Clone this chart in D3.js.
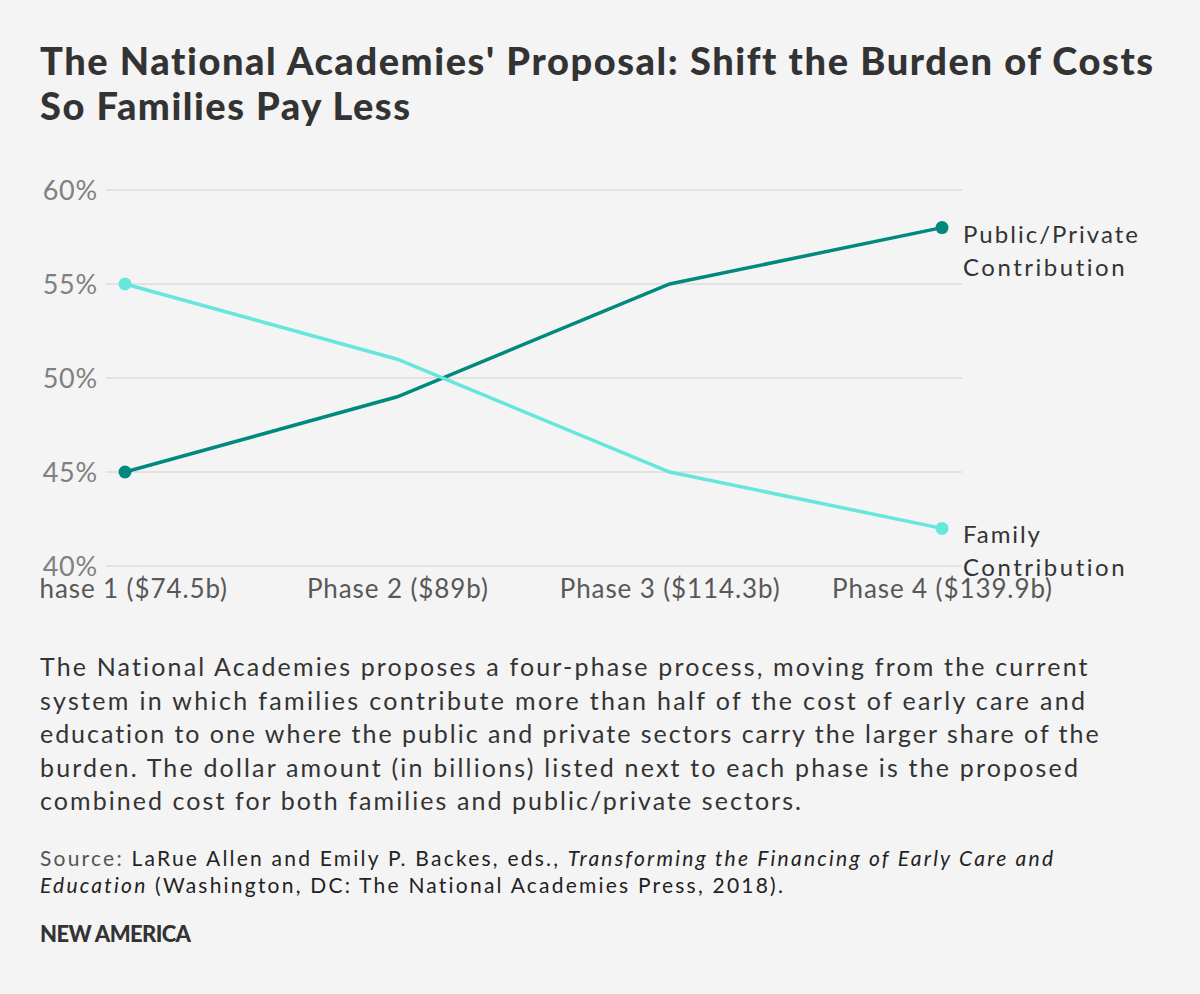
<!DOCTYPE html>
<html>
<head>
<meta charset="utf-8">
<script src="https://cdn.jsdelivr.net/npm/d3@7"></script>
<style>
  html, body { margin: 0; padding: 0; background: #f4f4f4; }
  svg { display: block; font-family: Lato, "Noto Sans", sans-serif; }
</style>
</head>
<body>
<svg id="chart" width="1200" height="994"></svg>
<script>
// ---- data ----
const categories = ["Phase 1 ($74.5b)", "Phase 2 ($89b)", "Phase 3 ($114.3b)", "Phase 4 ($139.9b)"];
const publicPrivate = [45, 49, 55, 58];
const family = [55, 51, 45, 42];
const yTicks = [40, 45, 50, 55, 60];
const seriesNames = [["Public/Private", "Contribution"], ["Family", "Contribution"]];
const titleLines = ["The National Academies' Proposal: Shift the Burden of Costs", "So Families Pay Less"];
const bodyLines = [
  "The National Academies proposes a four-phase process, moving from the current",
  "system in which families contribute more than half of the cost of early care and",
  "education to one where the public and private sectors carry the larger share of the",
  "burden. The dollar amount (in billions) listed next to each phase is the proposed",
  "combined cost for both families and public/private sectors."
];

const svg = d3.select("#chart");
svg.append("rect").attr("width", 1200).attr("height", 994).attr("fill", "#f4f4f4");

// letter-spacing fit helper
function fit(sel, target) {
  sel.each(function() {
    const n = this.textContent.length;
    const w = this.getComputedTextLength();
    if (n > 1) d3.select(this).attr("letter-spacing", ((target - w) / (n - 1)).toFixed(3));
  });
}

// ---- title ----
const titleTargets = [1113, 370];
titleLines.forEach((t, i) => {
  const el = svg.append("text").attr("x", 40).attr("y", 75 + i * 45)
    .attr("font-size", 38).attr("font-weight", 900).attr("fill", "#333").text(t);
  fit(el, titleTargets[i]);
});

// ---- chart ----
const x = d3.scalePoint().domain(categories).range([125, 942]);
const y = d3.scaleLinear().domain([40, 60]).range([566, 190]);

svg.append("defs").append("clipPath").attr("id", "clip")
  .append("rect").attr("x", 40).attr("y", 150).attr("width", 1160).attr("height", 480);
const g = svg.append("g").attr("clip-path", "url(#clip)");

// gridlines
g.append("g").selectAll("line").data(yTicks).join("line")
  .attr("x1", 106).attr("x2", 962)
  .attr("y1", d => y(d)).attr("y2", d => y(d))
  .attr("stroke", "#dcdcdc").attr("stroke-width", 1.5);

// y axis
const yAxis = g.append("g").attr("transform", "translate(98,0)")
  .call(d3.axisLeft(y).tickValues(yTicks).tickFormat(d => d + "%").tickSize(0).tickPadding(0));
yAxis.select(".domain").remove();
yAxis.selectAll("text").attr("font-size", 27).attr("fill", "#808080").attr("letter-spacing", 0.8)
  .attr("font-family", "Lato, sans-serif").attr("dy", "0.36em");

// x axis
const xAxis = g.append("g").attr("transform", "translate(0,578)")
  .call(d3.axisBottom(x).tickSize(0).tickPadding(0));
xAxis.select(".domain").remove();
xAxis.selectAll("text").attr("font-size", 26).attr("fill", "#585858").attr("letter-spacing", 0.9)
  .attr("font-family", "Lato, sans-serif").attr("dy", "0.75em");

const series = [
  { values: publicPrivate, color: "#008a7e" },
  { values: family, color: "#67e6dc" }
];
const line = d3.line().x((d, i) => x(categories[i])).y(d => y(d));

series.forEach((s) => {
  g.append("path").datum(s.values).attr("d", line)
    .attr("fill", "none").attr("stroke", s.color).attr("stroke-width", 3.5);
  g.append("g").selectAll("circle")
    .data([[0, s.values[0]], [s.values.length - 1, s.values[s.values.length - 1]]])
    .join("circle")
    .attr("cx", d => x(categories[d[0]])).attr("cy", d => y(d[1]))
    .attr("r", 6.5).attr("fill", s.color);
});

// series labels
const labelTargets = [[175, 162], [77, 162]];
series.forEach((s, si) => {
  const last = s.values[s.values.length - 1];
  seriesNames[si].forEach((t, li) => {
    const el = svg.append("text").attr("x", 963).attr("y", y(last) + 15 + li * 33)
      .attr("font-size", 24).attr("fill", "#333").text(t);
    fit(el, labelTargets[si][li]);
  });
});

// ---- body text ----
const bodyTargets = [1048, 1045, 1059, 1038, 761];
bodyLines.forEach((t, i) => {
  const el = svg.append("text").attr("x", 40).attr("y", 676 + i * 33.5)
    .attr("font-size", 25).attr("fill", "#333").text(t);
  fit(el, bodyTargets[i]);
});

// ---- source ----
const s1 = svg.append("text").attr("x", 40).attr("y", 866).attr("font-size", 21).attr("fill", "#222");
s1.append("tspan").attr("fill", "#555").text("Source: ");
s1.append("tspan").text("LaRue Allen and Emily P. Backes, eds., ");
s1.append("tspan").attr("font-style", "italic").text("Transforming the Financing of Early Care and");
fit(s1, 1013);
const s2 = svg.append("text").attr("x", 40).attr("y", 893).attr("font-size", 21).attr("fill", "#222");
s2.append("tspan").attr("font-style", "italic").text("Education");
s2.append("tspan").text(" (Washington, DC: The National Academies Press, 2018).");
fit(s2, 743);

const na = svg.append("text").attr("x", 40).attr("y", 942).attr("font-size", 22)
  .attr("font-weight", 900).attr("fill", "#333").text("NEW AMERICA");
fit(na, 151);
</script>
</body>
</html>
